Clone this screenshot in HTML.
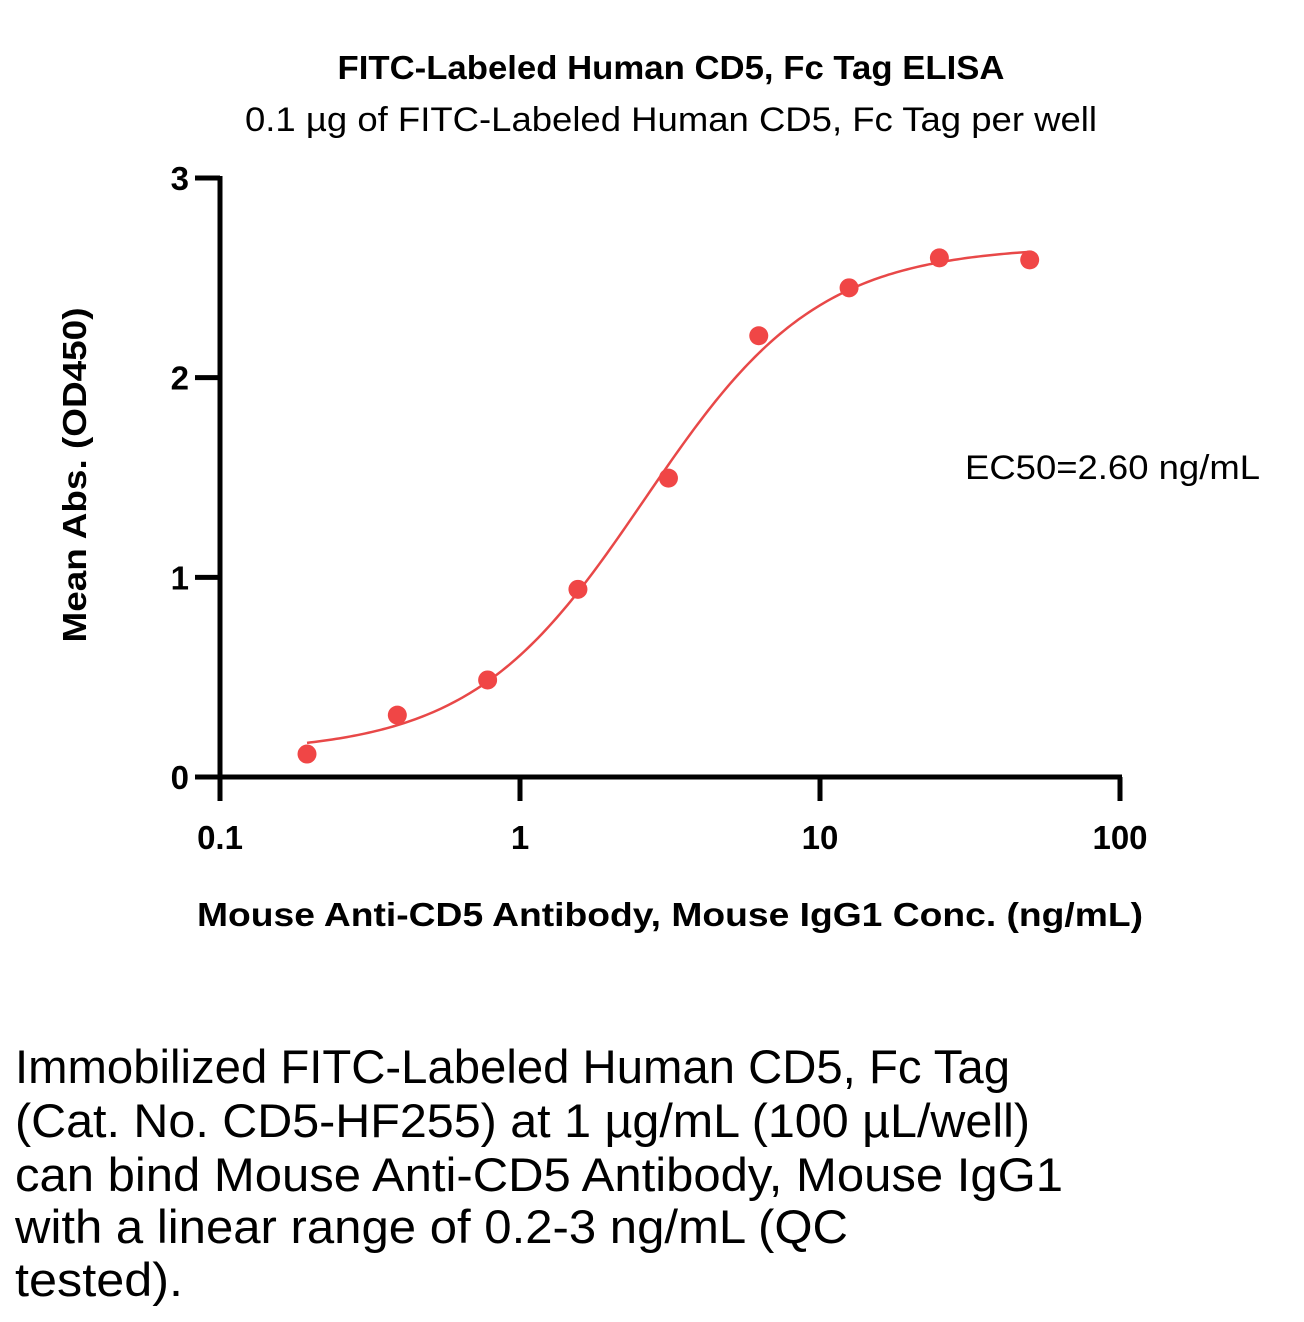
<!DOCTYPE html>
<html><head><meta charset="utf-8"><style>
html,body{margin:0;padding:0;background:#fff;}
svg{display:block;font-family:"Liberation Sans",sans-serif;}
</style></head><body>
<svg id="chart" width="1304" height="1322" viewBox="0 0 1304 1322">
<rect width="1304" height="1322" fill="#fff"/>
<text x="671" y="79" text-anchor="middle" font-weight="bold" font-size="33" textLength="667" lengthAdjust="spacingAndGlyphs">FITC-Labeled Human CD5, Fc Tag ELISA</text>
<text x="671" y="131" text-anchor="middle" font-size="34" textLength="852" lengthAdjust="spacingAndGlyphs">0.1 µg of FITC-Labeled Human CD5, Fc Tag per well</text>
<g id="axes"></g>
<g id="marks"></g>
<text x="965" y="479" font-size="34" textLength="295" lengthAdjust="spacingAndGlyphs">EC50=2.60 ng/mL</text>
<text x="670" y="926" text-anchor="middle" font-weight="bold" font-size="33" textLength="946" lengthAdjust="spacingAndGlyphs">Mouse Anti-CD5 Antibody, Mouse IgG1 Conc. (ng/mL)</text>
<text transform="translate(86,475) rotate(-90)" text-anchor="middle" font-weight="bold" font-size="33" textLength="335" lengthAdjust="spacingAndGlyphs">Mean Abs. (OD450)</text>
<g font-size="47">
<text x="15" y="1083" textLength="995" lengthAdjust="spacingAndGlyphs">Immobilized FITC-Labeled Human CD5, Fc Tag</text>
<text x="15" y="1137" textLength="1015" lengthAdjust="spacingAndGlyphs">(Cat. No. CD5-HF255) at 1 µg/mL (100 µL/well)</text>
<text x="15" y="1191" textLength="1048" lengthAdjust="spacingAndGlyphs">can bind Mouse Anti-CD5 Antibody, Mouse IgG1</text>
<text x="15" y="1243" textLength="833" lengthAdjust="spacingAndGlyphs">with a linear range of 0.2-3 ng/mL (QC</text>
<text x="15" y="1296" textLength="168" lengthAdjust="spacingAndGlyphs">tested).</text>
</g>
</svg>
<script>
const concentrations = [0.195, 0.39, 0.78, 1.56, 3.125, 6.25, 12.5, 25, 50];
const absorbances = [0.115, 0.31, 0.486, 0.94, 1.497, 2.21, 2.45, 2.6, 2.59];
const xTicks = [0.1, 1, 10, 100];
const xTickLabels = ["0.1", "1", "10", "100"];
const yTicks = [0, 1, 2, 3];
const yTickLabels = ["0", "1", "2", "3"];
const fitParams = [0.12, 2.66, 2.6, 1.5]; // bottom, top, EC50, hill

const NS = "http://www.w3.org/2000/svg";
const X0 = 220, X1 = 1120, Y0 = 777, Y1 = 178;
function xs(v){ return X0 + (Math.log10(v) - Math.log10(0.1)) / 3 * (X1 - X0); }
function ys(v){ return Y0 - v / 3 * (Y0 - Y1); }
function mk(tag, attrs, parent){ const e = document.createElementNS(NS, tag); for (const k in attrs) e.setAttribute(k, attrs[k]); parent.appendChild(e); return e; }

const axes = document.getElementById('axes');
const marks = document.getElementById('marks');
let e = mk('line', {x1: X0, y1: Y1 - 2, x2: X0, y2: 801, stroke: '#000', 'stroke-width': 5}, axes);


e = mk('line', {x1: 195, y1: Y0, x2: X1 + 2, y2: Y0, stroke: '#000', 'stroke-width': 5}, axes);


yTicks.forEach((t, i) => {
  const y = ys(t);
  let tk = mk('line', {x1: 195, y1: y, x2: X0, y2: y, stroke: '#000', 'stroke-width': 5}, axes);
  
  
  let lb = mk('text', {x: 189, y: y + 12, 'text-anchor': 'end', 'font-weight': 'bold', 'font-size': 33}, axes);
  lb.textContent = yTickLabels[i];
  
  
});
xTicks.forEach((t, i) => {
  const x = xs(t);
  let tk = mk('line', {x1: x, y1: Y0, x2: x, y2: 801, stroke: '#000', 'stroke-width': 5}, axes);
  
  
  let lb = mk('text', {x: x, y: 849, 'text-anchor': 'middle', 'font-weight': 'bold', 'font-size': 33}, axes);
  lb.textContent = xTickLabels[i];
  
  
});
function fit(x){ const [b, t, c, h] = fitParams; return b + (t - b) / (1 + Math.pow(c / x, h)); }
let d = '';
const lo = Math.log10(concentrations[0]), hi = Math.log10(concentrations[concentrations.length - 1]);
for (let i = 0; i <= 200; i++) {
  const x = Math.pow(10, lo + (hi - lo) * i / 200);
  d += (i ? 'L' : 'M') + xs(x).toFixed(2) + ',' + ys(fit(x)).toFixed(2);
}
e = mk('path', {d: d, fill: 'none', stroke: '#e84848', 'stroke-width': 2.5}, marks);


concentrations.forEach((c, i) => {
  const p = mk('circle', {cx: xs(c), cy: ys(absorbances[i]), r: 9.5, fill: '#f04646'}, marks);
  
  
});
</script>
</body></html>
